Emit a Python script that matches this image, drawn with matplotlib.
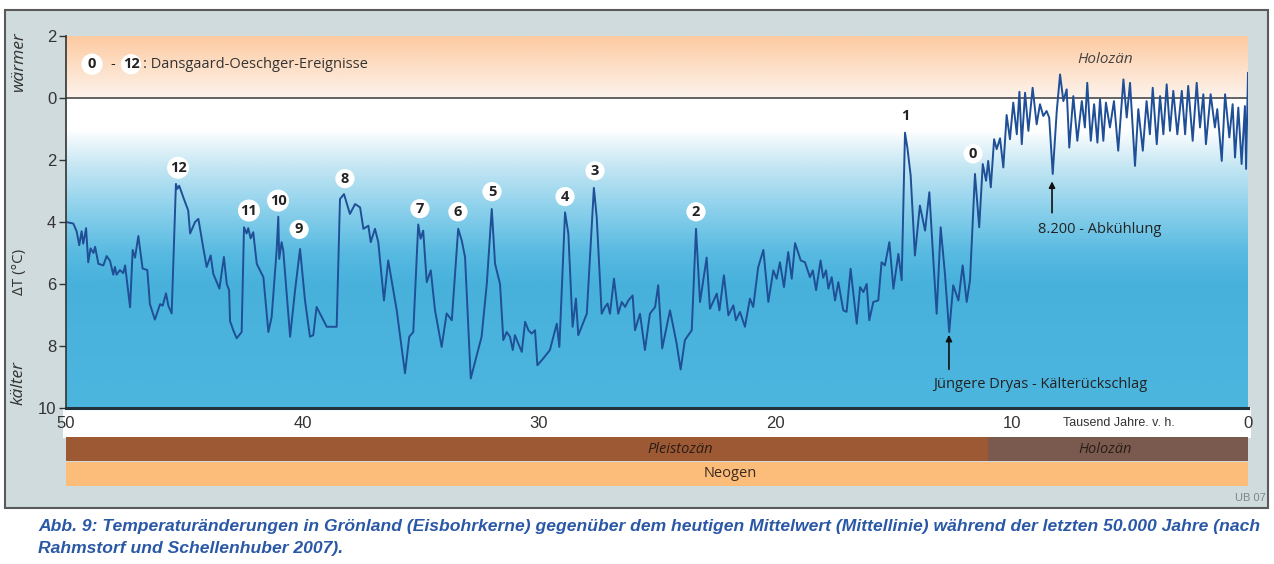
import numpy as np
import matplotlib
matplotlib.use('Agg')
import matplotlib.pyplot as plt
from matplotlib.colors import LinearSegmentedColormap
from matplotlib.patches import Rectangle
from matplotlib import font_manager

# --- data: Greenland ice core temperature (ka before present, delta T in deg C below today) ---
ka = [50.0, 49.69, 49.55, 49.44, 49.34, 49.27, 49.15, 49.06, 48.96, 48.84, 48.77, 48.63, 48.42, 48.28,
      48.14, 48.0, 47.93, 47.86, 47.72, 47.58, 47.5, 47.29, 47.18, 47.08, 46.94, 46.76, 46.56, 46.45,
      46.24, 46.02, 45.91, 45.77, 45.67, 45.53, 45.35, 45.29, 45.21, 45.04, 44.83, 44.75, 44.54, 44.4,
      44.19, 44.05, 43.88, 43.77, 43.51, 43.32, 43.2, 43.1, 43.06, 42.92, 42.78, 42.57, 42.47, 42.36,
      42.29, 42.19, 42.08, 41.93, 41.65, 41.44, 41.3, 41.09, 41.02, 40.98, 40.88, 40.81, 40.52, 40.31,
      40.1, 39.89, 39.68, 39.54, 39.4, 38.97, 38.55, 38.41, 38.24, 37.99, 37.77, 37.56, 37.42, 37.21,
      37.11, 36.93, 36.79, 36.55, 36.37, 36.01, 35.66, 35.48, 35.31, 35.1, 35.0, 34.89, 34.74, 34.57,
      34.39, 34.11, 33.9, 33.68, 33.41, 33.26, 33.12, 32.88, 32.42, 32.2, 31.99, 31.85, 31.64, 31.5,
      31.36, 31.22, 31.1, 31.01, 30.87, 30.72, 30.58, 30.44, 30.3, 30.16, 30.06, 29.81, 29.53, 29.24,
      29.13, 28.89, 28.75, 28.57, 28.43, 28.33, 27.97, 27.67, 27.55, 27.34, 27.2, 27.09, 26.99, 26.82,
      26.64, 26.49, 26.35, 26.21, 26.03, 25.93, 25.72, 25.51, 25.3, 25.08, 24.95, 24.78, 24.45, 24.17,
      24.0, 23.82, 23.53, 23.35, 23.18, 22.9, 22.76, 22.47, 22.36, 22.17, 21.98, 21.77, 21.66, 21.49,
      21.28, 21.07, 20.93, 20.72, 20.5, 20.29, 20.08, 19.94, 19.8, 19.63, 19.45, 19.3, 19.16, 18.92,
      18.74, 18.53, 18.41, 18.27, 18.08, 17.97, 17.85, 17.75, 17.61, 17.47, 17.33, 17.12, 16.98, 16.81,
      16.55, 16.41, 16.27, 16.13, 16.02, 15.85, 15.64, 15.5, 15.36, 15.17, 15.0, 14.79, 14.65, 14.51,
      14.41, 14.27, 14.09, 13.88, 13.66, 13.48, 13.31, 13.17, 13.0, 12.82, 12.64, 12.47, 12.25, 12.07,
      11.9, 11.76, 11.55, 11.37, 11.22, 11.08, 10.99, 10.88, 10.74, 10.63, 10.49, 10.35, 10.21, 10.07,
      9.93, 9.78, 9.67, 9.57, 9.43, 9.29, 9.11, 8.94, 8.8, 8.66, 8.52, 8.41, 8.26, 8.09, 7.95, 7.81,
      7.67, 7.56, 7.39, 7.22, 7.03, 6.9, 6.8, 6.65, 6.51, 6.37, 6.26, 6.12, 6.01, 5.84, 5.67, 5.49,
      5.27, 5.13, 4.99, 4.78, 4.64, 4.45, 4.29, 4.15, 4.03, 3.86, 3.72, 3.58, 3.44, 3.3, 3.16, 2.99,
      2.8, 2.66, 2.53, 2.34, 2.17, 2.03, 1.89, 1.78, 1.58, 1.4, 1.3, 1.11, 0.97, 0.79, 0.65, 0.55,
      0.41, 0.27, 0.13, 0.08, 0.0]
dT = [4.0, 4.05, 4.3, 4.75, 4.3, 4.7, 4.2, 5.3, 4.85, 5.0, 4.8, 5.35, 5.4, 5.1,
      5.25, 5.7, 5.45, 5.7, 5.55, 5.65, 5.4, 6.75, 4.9, 5.15, 4.45, 5.5, 5.55, 6.65,
      7.15, 6.65, 6.7, 6.3, 6.7, 6.95, 2.77, 2.93, 2.83, 3.2, 3.63, 4.37, 4.0, 3.9,
      4.85, 5.45, 5.08, 5.67, 6.15, 5.13, 6.0, 6.2, 7.2, 7.5, 7.75, 7.55, 4.17, 4.37,
      4.2, 4.53, 4.33, 5.35, 5.78, 7.55, 7.06, 4.92, 3.83, 5.19, 4.65, 4.92, 7.7, 6.2,
      4.87, 6.53, 7.7, 7.65, 6.74, 7.38, 7.38, 3.26, 3.1, 3.74, 3.42, 3.53, 4.22, 4.12,
      4.65, 4.22, 4.65, 6.53, 5.24, 6.85, 8.88, 7.7, 7.55, 4.08, 4.54, 4.28, 5.94, 5.56,
      6.85, 8.03, 6.95, 7.17, 4.22, 4.6, 5.13, 9.05, 7.7, 6.0, 3.58, 5.35, 6.0, 7.81,
      7.55, 7.7, 8.13, 7.65, 7.92, 8.19, 7.22, 7.49, 7.6, 7.49, 8.62, 8.4, 8.13, 7.28,
      8.03, 3.69, 4.38, 7.38, 6.47, 7.65, 6.96, 2.9, 3.85, 6.96, 6.74, 6.63, 6.96, 5.83,
      6.96, 6.58, 6.74, 6.53, 6.37, 7.49, 6.96, 8.13, 6.96, 6.74, 6.04, 8.08, 6.85, 7.92,
      8.76, 7.81, 7.49, 4.22, 6.58, 5.15, 6.8, 6.31, 6.85, 5.72, 7.01, 6.69, 7.17, 6.9,
      7.38, 6.47, 6.74, 5.46, 4.9, 6.58, 5.56, 5.83, 5.3, 6.1, 4.97, 5.83, 4.68, 5.24,
      5.3, 5.78, 5.56, 6.2, 5.24, 5.8, 5.56, 6.15, 5.78, 6.53, 5.94, 6.85, 6.9, 5.51,
      7.28, 6.1, 6.26, 6.0, 7.17, 6.58, 6.53, 5.3, 5.4, 4.65, 6.15, 5.03, 5.88, 1.12,
      1.6, 2.5, 5.08, 3.47, 4.28, 3.04, 5.24, 6.96, 4.17, 5.67, 7.55, 6.04, 6.53, 5.4,
      6.58, 5.88, 2.45, 4.17, 2.13, 2.67, 2.03, 2.88, 1.33, 1.65, 1.3, 2.24, 0.55, 1.33,
      0.15, 1.17, -0.2, 1.49, -0.17, 1.06, -0.33, 0.85, 0.2, 0.58, 0.42, 0.63, 2.45, 0.42, -0.76, 0.1,
      -0.28, 1.6, -0.06, 1.38, 0.1, 0.95, -0.49, 1.38, 0.2, 1.44, 0.04, 1.38, 0.15, 0.95, 0.1, 1.7,
      -0.6, 0.63, -0.49, 2.19, 0.36, 1.7, 0.1, 1.17, -0.33, 1.49, -0.06, 1.17, -0.44, 1.06, -0.23, 1.17,
      -0.23, 1.17, -0.39, 1.38, -0.49, 0.95, -0.12, 1.49, -0.12, 0.95, 0.36, 2.03, -0.12, 1.27, 0.2, 1.92,
      0.31, 2.13, 0.26, 2.29, -0.81]

# Dansgaard-Oeschger events: number and label position (ka, dT)
do_events = ['12', '11', '10', '9', '8', '7', '6', '5', '4', '3', '2', '1', '0']
do_ka = [45.26, 42.26, 41.03, 40.14, 38.2, 35.03, 33.42, 31.98, 28.89, 27.62, 23.35, 14.51, 11.63]
do_dT = [2.25, 3.63, 3.31, 4.24, 2.6, 3.57, 3.67, 3.02, 3.18, 2.35, 3.67, 0.58, 1.8]

# time periods below the chart
periods = ['Pleistozän', 'Holozän']
period_start = [50.0, 11.0]
period_end = [11.0, 0.0]
period_colors = ['#9c5933', '#7a5a4e']
period_label_ka = [24.0, 6.05]
era = 'Neogen'

xticks = [50, 40, 30, 20, 10, 0]
yticks = [-2, 0, 2, 4, 6, 8, 10]
ytick_labels = ['2', '0', '2', '4', '6', '8', '10']

caption1 = ('Abb. 9: Temperaturänderungen in Grönland (Eisbohrkerne) gegenüber dem heutigen Mittelwert '
            '(Mittellinie) während der letzten 50.000 Jahre (nach')
caption2 = 'Rahmstorf und Schellenhuber 2007).'

names = {f.name for f in font_manager.fontManager.ttflist}
narrow = 'Liberation Sans Narrow' if 'Liberation Sans Narrow' in names else 'Liberation Sans'
plt.rcParams['font.family'] = ['Open Sans', 'DejaVu Sans']

W, H = 1274, 564
fig = plt.figure(figsize=(W / 100, H / 100), dpi=100)

def fx(px):
    return px / W

def fy(py):
    return 1 - py / H

# grey panel and white strip under the axis
fig.patches.append(Rectangle((fx(5), fy(508)), fx(1263), 498 / H, transform=fig.transFigure,
                             facecolor='#cfdbdc', edgecolor='#5a5a5a', lw=1.5, zorder=-10))
fig.patches.append(Rectangle((fx(63), fy(438)), fx(1188), 30 / H, transform=fig.transFigure,
                             facecolor='white', edgecolor='none', zorder=-9))

ax = fig.add_axes([fx(66), fy(408), fx(1182), 372 / H])

# background gradient: warm (peach) above zero, white, then blue for colder
stops = [(-2, '#fdcba2'), (-0.05, '#fdf3ec'), (0, '#ffffff'), (1.0, '#ffffff'), (2.2, '#c4e6f3'),
         (3.5, '#8fd2ec'), (5.0, '#58bae1'), (6.0, '#47b1dc'), (10, '#4db6df')]
cmap = LinearSegmentedColormap.from_list('bg', [((v + 2) / 12, c) for v, c in stops])
grad = np.linspace(-2, 10, 600).reshape(-1, 1)
ax.imshow(grad, cmap=cmap, vmin=-2, vmax=10, extent=[50, 0, 10, -2], aspect='auto', zorder=0)

ax.axhline(0, color='#4a4a4a', lw=1.2, zorder=1)
ax.plot(ka, dT, color='#1f4f96', lw=1.4, zorder=2)

ax.set_xlim(50, 0)
ax.set_ylim(10, -2)
for s in ['top', 'right']:
    ax.spines[s].set_visible(False)
ax.spines['left'].set_color('#333333')
ax.spines['left'].set_linewidth(1.2)
ax.spines['bottom'].set_color('#23333d')
ax.spines['bottom'].set_linewidth(2.2)

ax.set_yticks(yticks)
ax.set_yticklabels(ytick_labels, family=narrow, fontsize=12, color='#333333')
ax.tick_params(axis='y', direction='out', length=5, width=1, color='#333333', pad=2)
ax.set_xticks(xticks)
ax.set_xticklabels([str(t) for t in xticks], family=narrow, fontsize=12, color='#333333')
ax.tick_params(axis='x', length=0, pad=6)

ax.text(5.45, 10.48, 'Tausend Jahre. v. h.', family=narrow, fontsize=9, color='#333333',
        ha='center', va='center', clip_on=False)

# event markers
for lab, x, y in zip(do_events, do_ka, do_dT):
    ax.text(x, y, lab, ha='center', va='center', fontsize=10.5, fontweight='bold', color='#222222',
            bbox=dict(boxstyle='circle,pad=0.18', fc='white', ec='none'), zorder=4)

# legend for events
ax.text(48.9, -1.09, '0', ha='center', va='center', fontsize=10.5, fontweight='bold', color='#222222',
        bbox=dict(boxstyle='circle,pad=0.25', fc='white', ec='none'))
ax.text(48.01, -1.09, '-', ha='center', va='center', fontsize=10.5, color='#222222')
ax.text(47.25, -1.09, '12', ha='center', va='center', fontsize=10.5, fontweight='bold', color='#222222',
        bbox=dict(boxstyle='circle,pad=0.12', fc='white', ec='none'))
ax.text(46.75, -1.09, ': Dansgaard-Oeschger-Ereignisse', ha='left', va='center', fontsize=10.5,
        color='#333333')

ax.text(6.05, -1.25, 'Holozän', ha='center', va='center', fontsize=11, style='italic', color='#444444')

ax.annotate('', xy=(12.65, 7.55), xytext=(12.65, 8.84),
            arrowprops=dict(arrowstyle='-|>', color='#111111', lw=1.2, mutation_scale=9))
ax.text(8.8, 9.23, 'Jüngere Dryas - Kälterückschlag', ha='center', va='center', fontsize=10.5,
        color='#222222')
ax.annotate('', xy=(8.29, 2.6), xytext=(8.29, 3.79),
            arrowprops=dict(arrowstyle='-|>', color='#111111', lw=1.2, mutation_scale=9))
ax.text(6.26, 4.24, '8.200 - Abkühlung', ha='center', va='center', fontsize=10.5, color='#222222')

# axis side labels
fig.text(fx(19), fy(62), 'wärmer', rotation=90, ha='center', va='center', fontsize=12.5,
         style='italic', color='#333333')
fig.text(fx(19), fy(272), 'ΔT (°C)', rotation=90, ha='center', va='center', fontsize=11,
         color='#333333')
fig.text(fx(19), fy(383), 'kälter', rotation=90, ha='center', va='center', fontsize=12.5,
         style='italic', color='#333333')

# period bars
bx = fig.add_axes([fx(66), fy(486), fx(1182), 49 / H])
bx.set_xlim(50, 0)
bx.set_ylim(0, 2)
bx.axis('off')
for name, a, b, c, lx in zip(periods, period_start, period_end, period_colors, period_label_ka):
    bx.barh(1.5, b - a, left=a, height=0.98, color=c, edgecolor='none')
    bx.text(lx, 1.5, name, ha='center', va='center', fontsize=10.5, style='italic', color='#2a1d16')
bx.barh(0.5, 0 - 50, left=50, height=0.98, color='#fdbd7a', edgecolor='none')
bx.text(21.9, 0.5, era, ha='center', va='center', fontsize=10.5, color='#3a2a20')

fig.text(fx(1266), fy(498), 'UB 07', ha='right', va='center', family=narrow, fontsize=8, color='#7a8a8a')

fig.text(fx(38), fy(527), caption1, ha='left', va='center', family=narrow, fontsize=12.6,
         fontweight='bold', style='italic', color='#2a58a6')
fig.text(fx(38), fy(549), caption2, ha='left', va='center', family=narrow, fontsize=12.6,
         fontweight='bold', style='italic', color='#2a58a6')

fig.savefig('out.png', dpi=100)
